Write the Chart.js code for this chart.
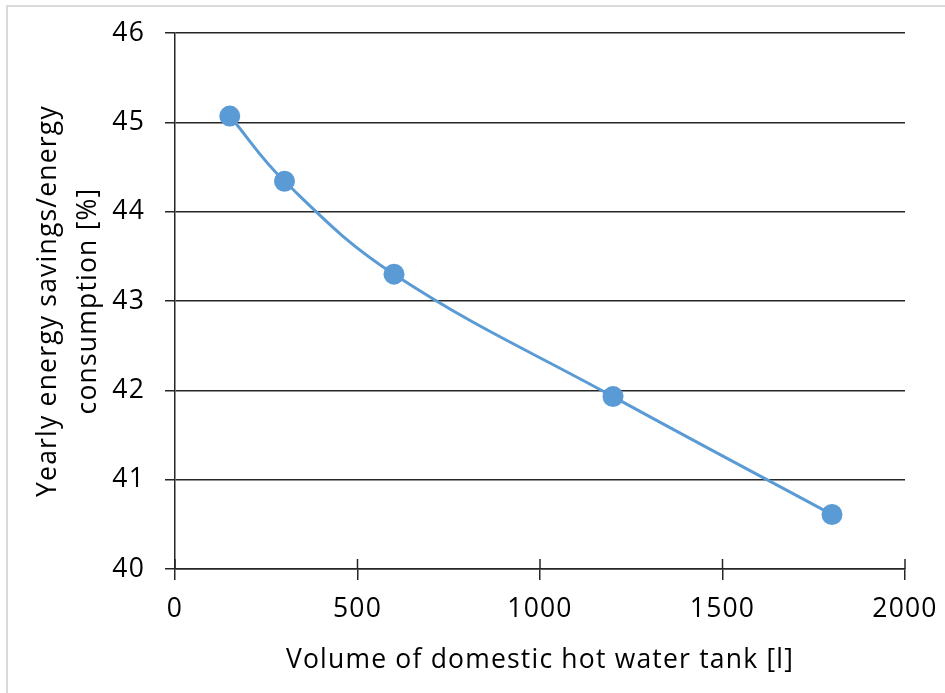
<!DOCTYPE html>
<html>
<head>
<meta charset="utf-8">
<script src="https://cdn.jsdelivr.net/npm/chart.js@4"></script>
<style>
  html, body { margin:0; padding:0; background:#fff; overflow:hidden; }
  #frame { position:absolute; left:6px; top:5px; width:1000px; height:1000px;
           border:2px solid #d9d9d9; box-sizing:border-box; }
  #wrap  { position:absolute; left:0; top:0; width:945px; height:693px; }
</style>
</head>
<body>
<div id="frame"></div>
<div id="wrap"><canvas id="c" width="945" height="693"></canvas></div>
<script>
// ── DATA ───────────────────────────────────────────────
const tankVolume = [150, 300, 600, 1200, 1800];          // l
const savingsPct = [45.07, 44.34, 43.30, 41.93, 40.61];  // %
const xTitle = "Volume of domestic hot water tank [l]";
const yTitle = ["Yearly energy savings/energy", "consumption [%]"];

// ── STYLE ──────────────────────────────────────────────
const FONT   = "Open Sans";
const FSIZE  = 26.5;
const BLUE   = "#5b9bd5";
const LINE   = "#262626";

// slightly looser text, closer to the office-chart look
const spacing = {
  id: "spacing",
  beforeInit(chart)   { chart.ctx.letterSpacing = "1.2px"; },
  beforeLayout(chart) { chart.ctx.letterSpacing = "1.2px"; },
  beforeDraw(chart)   { chart.ctx.letterSpacing = "1.2px"; }
};

// Excel-style "cross" tick marks on the x axis (upper half)
const crossTicks = {
  id: "crossTicks",
  afterDraw(chart) {
    const sx = chart.scales.x, ctx = chart.ctx;
    const y0 = chart.chartArea.bottom;
    ctx.save();
    ctx.strokeStyle = LINE;
    ctx.lineWidth = 1.5;
    sx.ticks.forEach(t => {
      const px = sx.getPixelForValue(t.value);
      ctx.beginPath();
      ctx.moveTo(px, y0 - 10);
      ctx.lineTo(px, y0);
      ctx.stroke();
    });
    ctx.restore();
  }
};

new Chart(document.getElementById("c"), {
  type: "scatter",
  data: {
    datasets: [{
      data: tankVolume.map((v, i) => ({ x: v, y: savingsPct[i] })),
      showLine: true,
      tension: 0.4,
      borderColor: BLUE,
      borderWidth: 3,
      backgroundColor: BLUE,
      pointRadius: 10.5,
      pointBorderWidth: 0,
      pointBackgroundColor: BLUE
    }]
  },
  options: {
    responsive: false,
    animation: false,
    layout: { autoPadding: false, padding: { left: 0, top: 33, right: 40, bottom: 0 } },
    plugins: { legend: { display: false }, tooltip: { enabled: false } },
    scales: {
      x: {
        type: "linear",
        min: 0, max: 2000,
        ticks: { stepSize: 500, color: "#000", padding: 14, maxRotation: 0,
                 callback: v => String(v),
                 font: { family: FONT, size: FSIZE } },
        grid: { drawOnChartArea: false, drawTicks: true, tickLength: 11,
                color: LINE, lineWidth: 1.5 },
        border: { color: LINE, width: 1.5 },
        title: { display: true, text: xTitle, color: "#000",
                 font: { family: FONT, size: FSIZE }, padding: { top: 0, bottom: 17 } },
        afterFit(scale) {
          scale.height = 124;
          scale.paddingLeft = 0;
          scale.paddingRight = 0;
        }
      },
      y: {
        min: 40, max: 46,
        ticks: { stepSize: 1, color: "#000", padding: 20,
                 font: { family: FONT, size: FSIZE } },
        grid: { color: LINE, lineWidth: 1.5, tickLength: 10 },
        border: { color: LINE, width: 1.5 },
        title: { display: true, text: yTitle, color: "#000",
                 font: { family: FONT, size: FSIZE, lineHeight: 1.49 },
                 padding: { top: 29, bottom: 0 } },
        afterFit(scale) {
          scale.width = 175;
          scale.paddingTop = 0;
          scale.paddingBottom = 0;
        }
      }
    }
  },
  plugins: [spacing, crossTicks]
});
</script>
</body>
</html>
